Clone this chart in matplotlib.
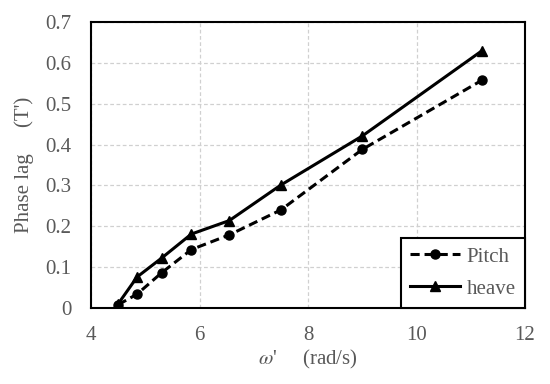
import matplotlib.pyplot as plt

plt.rcParams['font.family'] = ['Liberation Serif', 'DejaVu Serif']
plt.rcParams['mathtext.fontset'] = 'stix'

# data
omega = [4.5, 4.85, 5.3, 5.85, 6.55, 7.5, 9.0, 11.2]
pitch = [0.008, 0.034, 0.086, 0.143, 0.179, 0.240, 0.388, 0.557]
heave = [0.010, 0.076, 0.122, 0.181, 0.214, 0.301, 0.421, 0.629]

grey = '#595959'

fig = plt.figure(figsize=(5.5, 3.84), dpi=100)
ax = fig.add_axes([91/550, 1 - 308/384, 434/550, 286/384])

ax.plot(omega, pitch, color='black', linestyle='--', linewidth=2.2,
        marker='o', markersize=6.5, label='Pitch', dashes=(3, 1.6))
ax.plot(omega, heave, color='black', linestyle='-', linewidth=2.2,
        marker='^', markersize=7, label='heave')

ax.set_xlim(4, 12)
ax.set_ylim(0, 0.7)
ax.set_xticks([4, 6, 8, 10, 12])
ax.set_yticks([0, 0.1, 0.2, 0.3, 0.4, 0.5, 0.6, 0.7])
ax.set_yticklabels(['0', '0.1', '0.2', '0.3', '0.4', '0.5', '0.6', '0.7'])
ax.tick_params(length=0, labelsize=15, labelcolor=grey)
ax.tick_params(axis='y', pad=14)
ax.tick_params(axis='x', pad=13)
ax.grid(True, color='#d0d0d0', linestyle='--', linewidth=0.9, dashes=(3, 2))
ax.set_axisbelow(True)
for s in ax.spines.values():
    s.set_linewidth(1.5)
    s.set_color('black')

ax.set_xlabel("$\\omega$'     (rad/s)", fontsize=15, color=grey, labelpad=2)
ax.set_ylabel("Phase lag     (T')", fontsize=15, color=grey, labelpad=8)

leg = ax.legend(loc='lower right', fontsize=15, fancybox=False, framealpha=1,
                edgecolor='black', borderaxespad=0, handlelength=2.4,
                handletextpad=0.3, labelspacing=0.6, borderpad=0.45)
leg.get_frame().set_linewidth(1.5)
for t in leg.get_texts():
    t.set_color(grey)

fig.savefig('out.png', dpi=100)
